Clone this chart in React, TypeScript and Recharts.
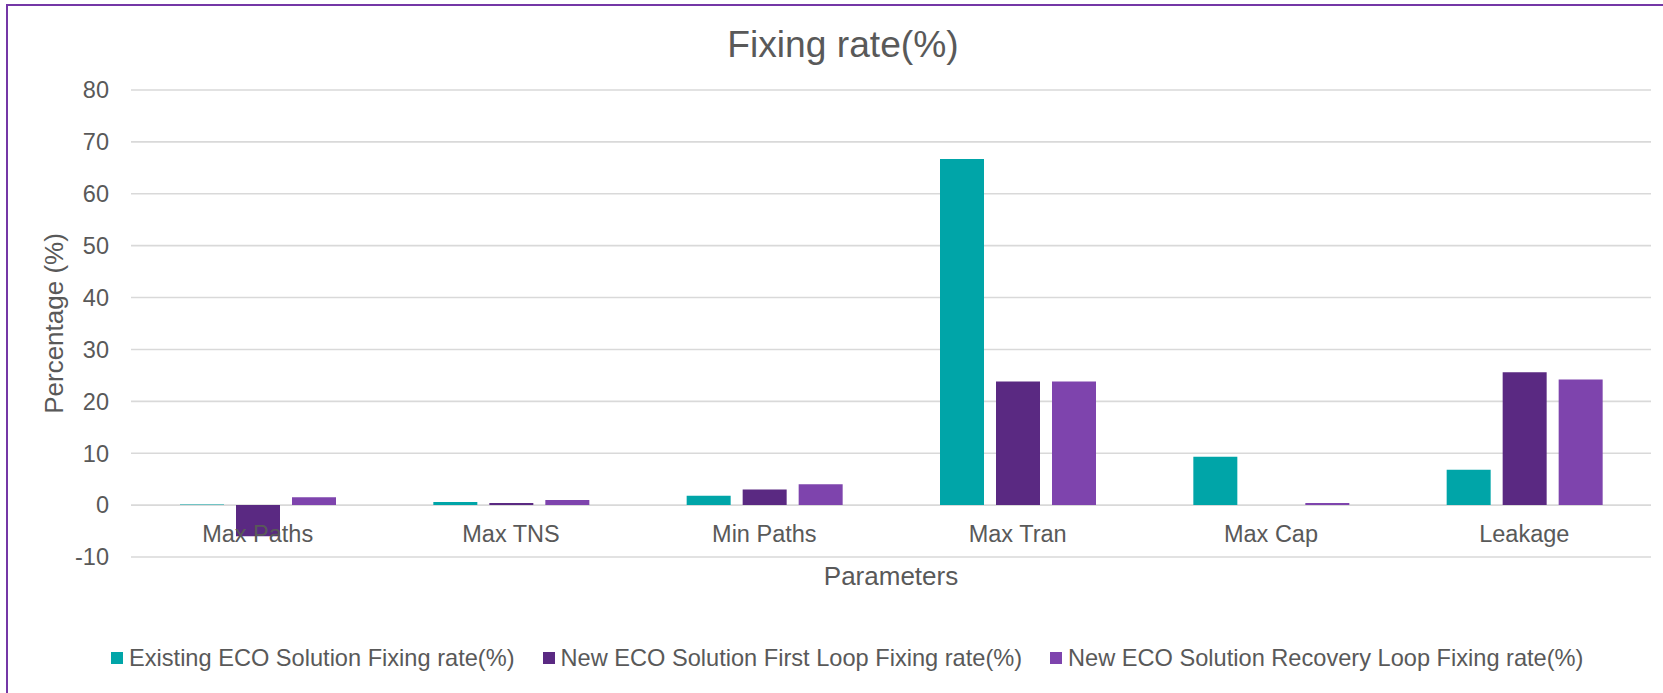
import React from 'react';
import { BarChart, Bar, XAxis, YAxis, CartesianGrid, Legend, Label } from 'recharts';

const categories = ['Max Paths', 'Max TNS', 'Min Paths', 'Max Tran', 'Max Cap', 'Leakage'];
const existingRate = [0.1, 0.6, 1.8, 66.7, 9.3, 6.8];
const firstLoopRate = [-6.0, 0.4, 3.0, 23.8, 0, 25.6];
const recoveryLoopRate = [1.5, 1.0, 4.0, 23.8, 0.4, 24.2];
const yTicks = [-10, 0, 10, 20, 30, 40, 50, 60, 70, 80];

const series = [
  { key: 'existing', name: 'Existing ECO Solution Fixing rate(%)', color: '#00A5A8' },
  { key: 'firstLoop', name: 'New ECO Solution First Loop Fixing rate(%)', color: '#5A2982' },
  { key: 'recoveryLoop', name: 'New ECO Solution Recovery Loop Fixing rate(%)', color: '#7E44AD' },
];

const data = categories.map((name, i) => ({
  name,
  existing: existingRate[i],
  firstLoop: firstLoopRate[i],
  recoveryLoop: recoveryLoopRate[i],
}));

const FONT = '"Liberation Sans", Arial, sans-serif';
const TEXT = '#595959';

// category names sit just under the zero line, above the bottom gridline
const CategoryTick = ({ x, y, payload }: any) => (
  <text x={x} y={y - 15} textAnchor="middle" fill={TEXT} fontSize={23.5} fontFamily={FONT}>
    {payload.value}
  </text>
);

const LegendContent = () => (
  <div style={{ display: 'flex', alignItems: 'center', gap: 28, fontFamily: FONT, fontSize: 23.6, lineHeight: '24px', color: TEXT, whiteSpace: 'nowrap' }}>
    {series.map((s) => (
      <div key={s.key} style={{ display: 'flex', alignItems: 'center' }}>
        <span style={{ width: 12, height: 12, background: s.color, marginRight: 6, display: 'inline-block' }} />
        <span>{s.name}</span>
      </div>
    ))}
  </div>
);

const App = () => {
  return (
    <div style={{ position: 'absolute', left: 0, top: 0, width: 1663, height: 693, overflow: 'hidden', background: '#fff' }}>
      <div style={{ position: 'absolute', left: 6, top: 4, width: 1720, height: 760, border: '2.5px solid #7437A6' }} />
      <div
        style={{
          position: 'absolute',
          left: 543,
          width: 600,
          top: 25.5,
          textAlign: 'center',
          fontFamily: FONT,
          fontSize: 37.2,
          lineHeight: '37.2px',
          color: TEXT,
        }}
      >
        Fixing rate(%)
      </div>
      <div style={{ position: 'absolute', left: 0, top: 0 }}>
        <BarChart
          width={1663}
          height={693}
          data={data}
          margin={{ top: 90, right: 12, left: 0, bottom: 96 }}
          barSize={44}
          barGap={12}
        >
          <CartesianGrid vertical={false} stroke="#d9d9d9" strokeWidth={1.6} />
          <XAxis
            dataKey="name"
            height={40}
            axisLine={false}
            tickLine={false}
            tickSize={0}
            tickMargin={0}
            tick={<CategoryTick />}
            interval={0}
          >
            <Label
              content={({ viewBox }: any) => (
                <text
                  x={viewBox.x + viewBox.width / 2}
                  y={viewBox.y + 28}
                  textAnchor="middle"
                  fill={TEXT}
                  fontSize={26}
                  fontFamily={FONT}
                >
                  Parameters
                </text>
              )}
            />
          </XAxis>
          <YAxis
            width={131}
            domain={[-10, 80]}
            ticks={yTicks}
            axisLine={false}
            tickLine={false}
            tickSize={0}
            tickMargin={22}
            tick={{ fill: TEXT, fontSize: 23.5, fontFamily: FONT }}
          >
            <Label
              content={({ viewBox }: any) => {
                const cy = viewBox.y + viewBox.height / 2;
                return (
                  <text
                    x={63}
                    y={cy}
                    transform={`rotate(-90, 63, ${cy})`}
                    textAnchor="middle"
                    fill={TEXT}
                    fontSize={26}
                    fontFamily={FONT}
                  >
                    Percentage (%)
                  </text>
                );
              }}
            />
          </YAxis>
          <Legend
            layout="horizontal"
            verticalAlign="middle"
            align="center"
            content={<LegendContent />}
            wrapperStyle={{ position: 'absolute', left: 111, top: 645.6, width: 'auto', height: 24 }}
          />
          {series.map((s) => (
            <Bar key={s.key} dataKey={s.key} name={s.name} fill={s.color} isAnimationActive={false} />
          ))}
        </BarChart>
      </div>
    </div>
  );
};

export default App;
